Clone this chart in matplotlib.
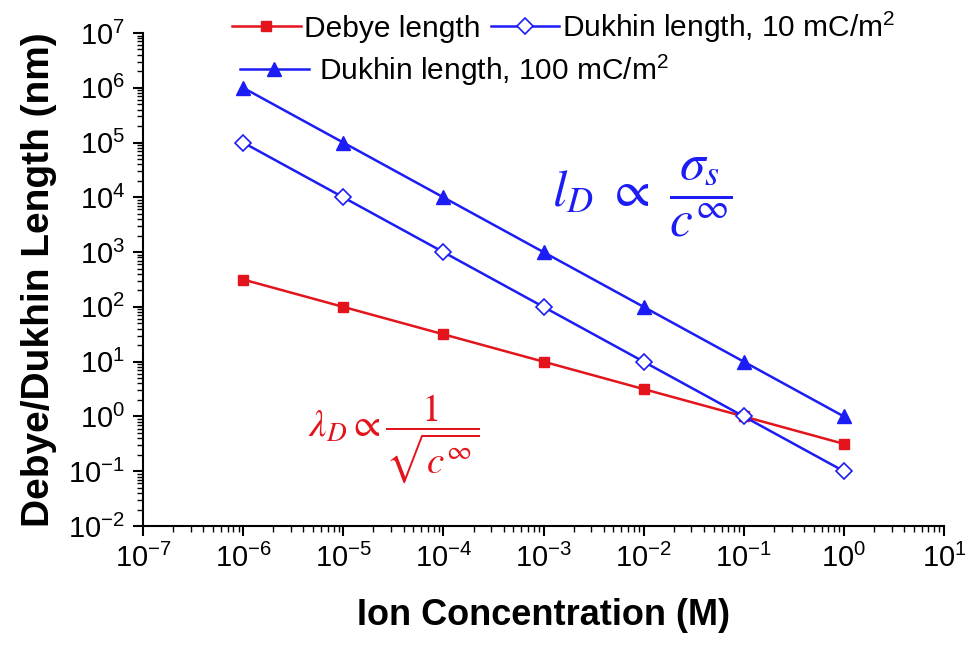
import numpy as np
import matplotlib.pyplot as plt
from matplotlib.ticker import LogLocator, NullFormatter, FuncFormatter

plt.rcParams['font.family'] = ['Liberation Sans', 'DejaVu Sans']
plt.rcParams['mathtext.fontset'] = 'stix'
plt.rcParams['axes.unicode_minus'] = False

conc = [1e-6, 1e-5, 1e-4, 1e-3, 1e-2, 1e-1, 1e0]
debye = [316, 100, 31.6, 10, 3.16, 1.0, 0.316]
dukhin_10 = [1e5, 1e4, 1e3, 1e2, 1e1, 1e0, 1e-1]
dukhin_100 = [1e6, 1e5, 1e4, 1e3, 1e2, 1e1, 1e0]

red = '#e3141c'
blue = '#1c1cf5'

W, H = 965, 646
fig = plt.figure(figsize=(W / 100, H / 100), dpi=100)
ax = fig.add_axes([143 / W, 1 - 526 / H, (944 - 143) / W, (526 - 33) / H])

l1, = ax.plot(conc, debye, color=red, lw=1.8, marker='s', ms=7.5, label='Debye length')
l2, = ax.plot(conc, dukhin_10, color=blue, lw=1.8, marker='D', ms=8, mfc='white',
              mew=1.2, label=r'Dukhin length, 10 mC/m$\mathregular{^2}$')
l3, = ax.plot(conc, dukhin_100, color=blue, lw=1.8, marker='^', ms=10,
              label=r'Dukhin length, 100 mC/m$\mathregular{^2}$')

ax.set_xscale('log')
ax.set_yscale('log')
ax.set_xlim(1e-7, 1e1)
ax.set_ylim(1e-2, 1e7)
ax.xaxis.set_major_locator(LogLocator(base=10, numticks=20))
ax.yaxis.set_major_locator(LogLocator(base=10, numticks=20))
ax.xaxis.set_minor_locator(LogLocator(base=10, subs=np.arange(2, 10), numticks=20))
ax.yaxis.set_minor_locator(LogLocator(base=10, subs=np.arange(2, 10), numticks=20))
ax.xaxis.set_minor_formatter(NullFormatter())
ax.yaxis.set_minor_formatter(NullFormatter())
fmt = FuncFormatter(lambda v, p: r'$\mathregular{10^{%d}}$' % round(np.log10(v)))
ax.xaxis.set_major_formatter(fmt)
ax.yaxis.set_major_formatter(fmt)

for s in ['top', 'right']:
    ax.spines[s].set_visible(False)
for s in ['left', 'bottom']:
    ax.spines[s].set_linewidth(1.5)
ax.tick_params(which='major', direction='out', length=7, width=1.5, labelsize=21, pad=6)
ax.tick_params(which='minor', direction='out', length=4, width=1.0)

ax.set_xlabel('Ion Concentration (M)', fontsize=26, fontweight='bold', labelpad=18)
ax.set_ylabel('Debye/Dukhin Length (nm)', fontsize=28, fontweight='bold', labelpad=8)

# legend: two rows laid out like the original
leg1 = fig.legend(handles=[l1, l2], ncol=2, loc='center left',
                  bbox_to_anchor=(232 / W, 1 - 27 / H), frameon=False, fontsize=21.5,
                  handlelength=2.3, handletextpad=0.1, columnspacing=0.35,
                  borderpad=0, borderaxespad=0)
leg2 = fig.legend(handles=[l3], loc='center left', bbox_to_anchor=(240 / W, 1 - 70 / H),
                  frameon=False, fontsize=21.5, handlelength=2.3, handletextpad=0.33,
                  borderpad=0, borderaxespad=0)

ax.text(10**-2.92, 10**4.0, r'$l_D\ \propto\ \dfrac{\sigma_s}{c^{\infty}}$', color=blue,
        fontsize=37, va='center', ha='left')
ax.text(10**-5.35, 10**-0.4, r'$\lambda_D \propto \dfrac{1}{\sqrt{c^{\infty}}}$', color=red,
        fontsize=28, va='center', ha='left')

fig.savefig('out.png', dpi=100)
